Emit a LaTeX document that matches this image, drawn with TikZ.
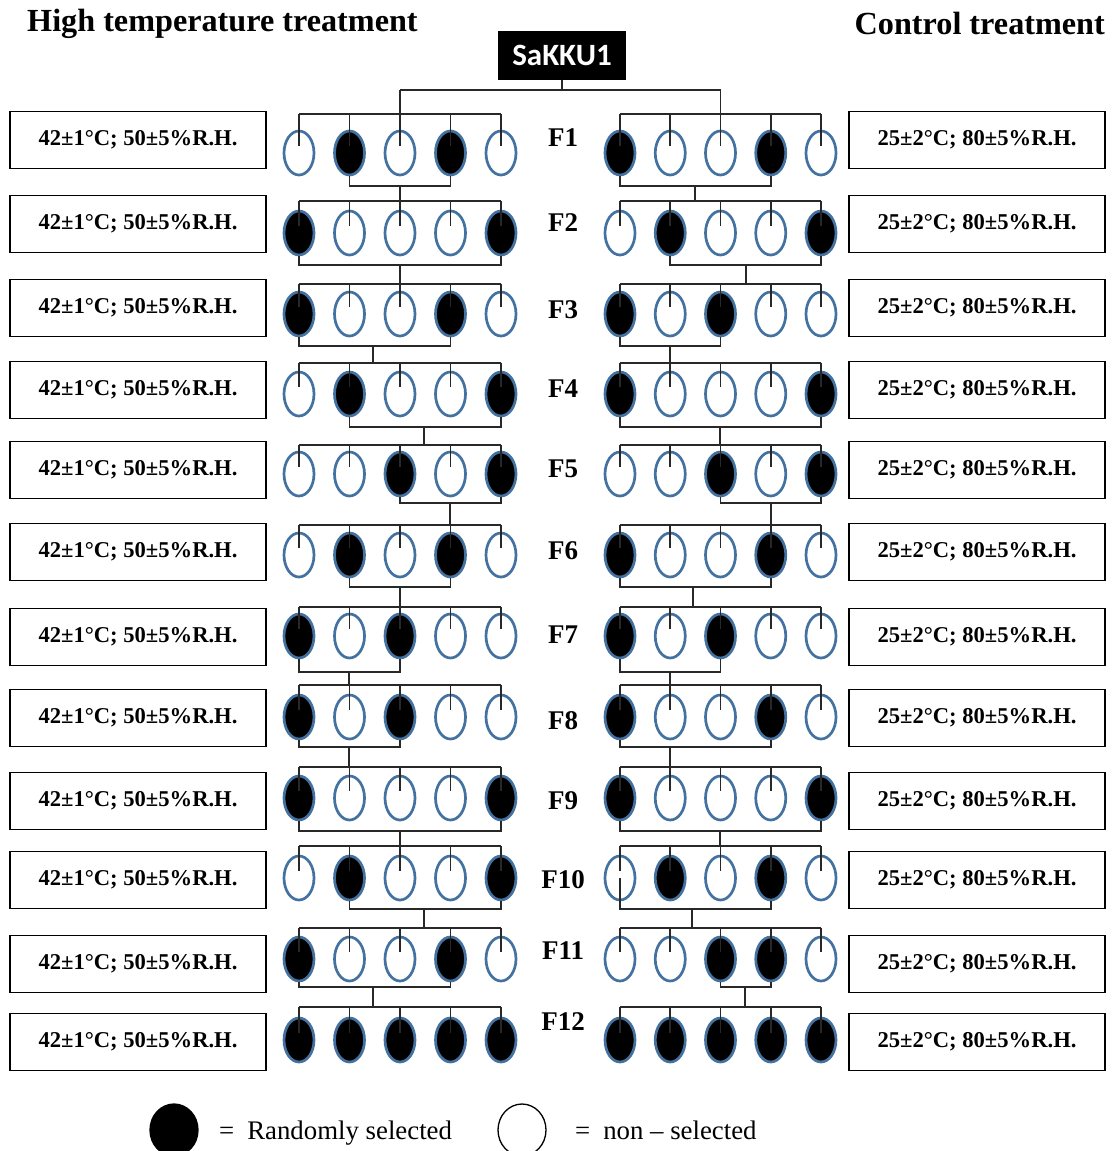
\documentclass[tikz,border=0pt]{standalone}
\usepackage{fontspec}
\setmainfont{Liberation Serif}
\newfontfamily\calib{Carlito}
\usetikzlibrary{shapes.geometric,calc}
\definecolor{eblue}{RGB}{68,114,160}
\definecolor{lnk}{RGB}{40,40,40}
\begin{document}
\begin{tikzpicture}[x=1pt,y=-1pt,
 ell/.style={ellipse,draw=eblue,line width=2.7pt,minimum width=30pt,minimum height=44pt,inner sep=0pt},
 sel/.style={ell,fill=black},
 con/.style={draw=lnk,line width=1.6pt},
 cond/.style={rectangle,draw=black,line width=1.5pt,minimum width=256pt,minimum height=57pt,inner sep=0pt,font=\fontsize{22.6}{25}\selectfont\bfseries},
 gen/.style={font=\fontsize{27}{30}\selectfont\bfseries,inner sep=0pt},
 ttl/.style={font=\fontsize{32.2}{35}\selectfont\bfseries,inner sep=0pt},
 leg/.style={font=\fontsize{26.8}{30}\selectfont,inner sep=0pt,anchor=base west},
]
\useasboundingbox (0,0) rectangle (1111,1151);

\node[ttl,anchor=base west] (tl) at (27,31) {High temperature treatment};
\node[ttl,anchor=base east] (tr) at (1105,34) {Control treatment};
\node[fill=black,text=white,font=\calib\fontsize{31}{33}\selectfont\bfseries,minimum width=128pt,minimum height=49pt,inner sep=0pt] (root) at (562,55) {SaKKU1};

\foreach \r/\Y/\T/\B/\by/\pL/\pR/\aL/\bL/\aR/\bR/\mL/\mR/\fy/\Tn in {
1/153/114/186/140/{0,1,0,1,0}/{1,0,0,1,0}/2/4/1/4/400/695/138/201,
2/233/201/265/224/{1,0,0,0,1}/{0,1,0,0,1}/1/5/2/5/400/746/223/284,
3/314/284/346/308/{1,0,0,1,0}/{1,0,1,0,0}/1/4/1/3/373/670/310/363,
4/394/363/427/390/{0,1,0,0,1}/{1,0,0,0,1}/2/5/1/5/424/720/389/445,
5/474/445/503/470/{0,0,1,0,1}/{0,0,1,0,1}/3/5/3/5/450/771/469/525,
6/555/525/587/552/{0,1,0,1,0}/{1,0,0,1,0}/2/4/1/4/400/693/551/607,
7/636/607/672/637/{1,0,1,0,0}/{1,0,1,0,0}/1/3/1/3/349/670/635/685,
8/717/685/747/718/{1,0,1,0,0}/{1,0,0,1,0}/1/3/1/4/349/670/721/767,
9/798/767/831/801/{1,0,0,0,1}/{1,0,0,0,1}/1/5/1/5/400/720/801/846,
10/878/846/909/880/{0,1,0,0,1}/{0,1,0,1,0}/2/5/1/4/424/692/880/928,
11/959/928/987/964/{1,0,0,1,0}/{0,0,1,1,0}/1/4/3/4/373/745/951/1007,
12/1040/1007/0/1042/{1,1,1,1,1}/{1,1,1,1,1}/1/5/1/5/0/0/1022/0}
{
  \node[cond] (cL\r) at (138,\by) {42±1°C; 50±5\%R.H.};
  \node[cond] (cR\r) at (977,\by) {25±2°C; 80±5\%R.H.};
  \node[gen] (F\r) at (563,\fy) {F\r};
  \coordinate (tL\r) at (0,\T);
  \foreach \f [count=\i] in \pL {
     \pgfmathsetmacro\xx{299+50.5*(\i-1)}
     \ifnum\f=1 \node[sel] (L\r-\i) at (\xx,\Y) {};\else\node[ell] (L\r-\i) at (\xx,\Y) {};\fi
  }
  \foreach \f [count=\i] in \pR {
     \pgfmathsetmacro\xx{620+50.25*(\i-1)}
     \ifnum\f=1 \node[sel] (R\r-\i) at (\xx,\Y) {};\else\node[ell] (R\r-\i) at (\xx,\Y) {};\fi
  }
  \foreach \i in {1,...,5} {
     \draw[con] ([yshift=7pt]L\r-\i.center) -- (L\r-\i.center |- tL\r);
     \draw[con] ([yshift=7pt]R\r-\i.center) -- (R\r-\i.center |- tL\r);
  }
  \draw[con] (L\r-1.center |- tL\r) -- (L\r-5.center |- tL\r);
  \draw[con] (R\r-1.center |- tL\r) -- (R\r-5.center |- tL\r);
  \ifnum\r<12
    \coordinate (bB\r) at (0,\B);
    \draw[con] (L\r-\aL.south) -- (L\r-\aL.south |- bB\r) -- (L\r-\bL.south |- bB\r) -- (L\r-\bL.south);
    \draw[con] (R\r-\aR.south) -- (R\r-\aR.south |- bB\r) -- (R\r-\bR.south |- bB\r) -- (R\r-\bR.south);
    \coordinate (mL\r) at (\mL,\B);
    \coordinate (nL\r) at (\mL,\Tn);
    \coordinate (mR\r) at (\mR,\B);
    \coordinate (nR\r) at (\mR,\Tn);
    \draw[con] (mL\r) -- (nL\r);
    \draw[con] (mR\r) -- (nR\r);
  \fi
}
% through line in F10 right, first ellipse
\draw[con] (R10-1.center) -- (R10-1.south);

% root connections
\coordinate (rb) at (0,90);
\draw[con] (root.south) -- (root.south |- rb);
\draw[con] (L1-3.center |- rb) -- (R1-3.center |- rb);
\draw[con] (L1-3.center |- rb) -- (L1-3.center |- tL1);
\draw[con] (R1-3.center |- rb) -- (R1-3.center |- tL1);

% legend
\node[ellipse,fill=black,draw=black,line width=1.3pt,minimum width=48pt,minimum height=52pt,inner sep=0pt] (kfill) at (174,1130) {};
\node[leg] (kt1) at (219,1139) {=\hspace{13pt}Randomly selected};
\node[ellipse,draw=black,line width=1.3pt,minimum width=48pt,minimum height=52pt,inner sep=0pt] (kopen) at (522,1130) {};
\node[leg] (kt2) at (575,1139) {=\hspace{13pt}non – selected};
\end{tikzpicture}
\end{document}
